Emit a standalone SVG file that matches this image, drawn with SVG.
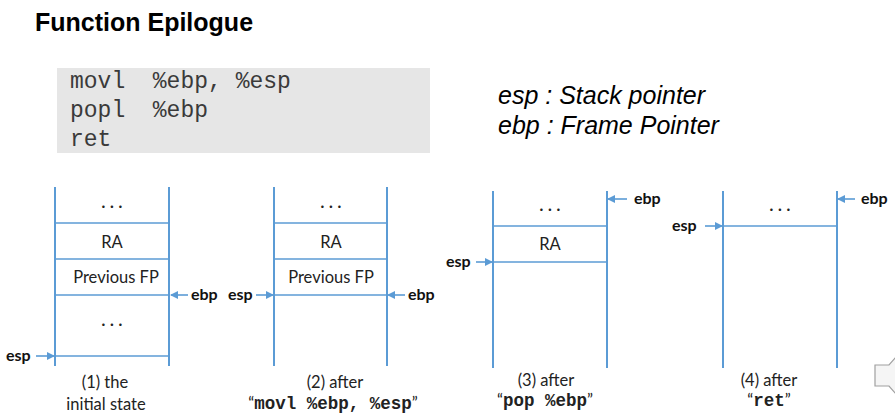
<svg xmlns="http://www.w3.org/2000/svg" width="895" height="419" viewBox="0 0 895 419">
<style>
.title{font-family:"Liberation Sans",Arial,sans-serif;font-weight:bold;font-size:25px;fill:#000}
.code{font-family:"Liberation Mono","Courier New",monospace;font-size:23px;fill:#3a3a3a;white-space:pre}
.legend{font-family:"Liberation Sans",Arial,sans-serif;font-style:italic;font-size:25px;fill:#000}
.cell{font-family:Lato,"Liberation Sans",sans-serif;font-size:16.5px;fill:#222;text-anchor:middle}
.reg{font-family:Lato,"Liberation Sans",sans-serif;font-size:16px;font-weight:bold;fill:#111}
.cap{font-family:Lato,"Liberation Sans",sans-serif;font-size:16.5px;fill:#222;text-anchor:middle}
.capc{font-family:"Liberation Mono","Courier New",monospace;font-weight:bold;font-size:17.5px}
.v{stroke:#5b9bd5;stroke-width:2;fill:none}
.h{stroke:#5b9bd5;stroke-width:1.6;fill:none}
.arr{stroke:#5b9bd5;stroke-width:1.6;fill:none;marker-end:url(#ah)}
</style>
<defs>
<marker id="ah" markerWidth="8" markerHeight="8" refX="7" refY="4" orient="auto" markerUnits="userSpaceOnUse">
<path d="M0,0 L8,4 L0,8 Z" fill="#5b9bd5"/>
</marker>
</defs>
<rect width="895" height="419" fill="#fff"/>
<text class="title" x="35" y="31">Function Epilogue</text>
<g id="code">
<rect x="57" y="68" width="373" height="85" fill="#e6e6e6"/>
<text class="code" x="70" y="88">movl  %ebp, %esp</text>
<text class="code" x="70" y="117">popl  %ebp</text>
<text class="code" x="70" y="146">ret</text>
</g>
<g id="legend">
<text class="legend" x="498" y="104">esp : Stack pointer</text>
<text class="legend" x="498" y="134">ebp : Frame Pointer</text>
</g>
<g id="stack1">
<line class="v" x1="55" y1="187" x2="55" y2="366"/>
<line class="v" x1="169" y1="187" x2="169" y2="366"/>
<line class="h" x1="55" y1="223" x2="169" y2="223"/>
<line class="h" x1="55" y1="259" x2="169" y2="259"/>
<line class="h" x1="55" y1="295" x2="169" y2="295"/>
<line class="h" x1="55" y1="356" x2="169" y2="356"/>
<text class="cell" x="112" y="212">· · ·</text>
<text class="cell" x="112" y="248">RA</text>
<text class="cell" x="116" y="283">Previous FP</text>
<text class="cell" x="112" y="330">· · ·</text>
<text class="cap" x="105" y="388">(1) the</text>
<text class="cap" x="106" y="410">initial state</text>
</g>
<g id="stack2">
<line class="v" x1="274" y1="187" x2="274" y2="366"/>
<line class="v" x1="387" y1="187" x2="387" y2="366"/>
<line class="h" x1="274" y1="223" x2="387" y2="223"/>
<line class="h" x1="274" y1="259" x2="387" y2="259"/>
<line class="h" x1="274" y1="295" x2="387" y2="295"/>
<text class="cell" x="331" y="212">· · ·</text>
<text class="cell" x="331" y="248">RA</text>
<text class="cell" x="331" y="283">Previous FP</text>
<text class="cap" x="335" y="388">(2) after</text>
<text class="cap" x="333" y="409">“<tspan class="capc">movl %ebp, %esp</tspan>”</text>
</g>
<g id="stack3">
<line class="v" x1="493" y1="191" x2="493" y2="368"/>
<line class="v" x1="607" y1="191" x2="607" y2="368"/>
<line class="h" x1="493" y1="226" x2="607" y2="226"/>
<line class="h" x1="493" y1="262" x2="607" y2="262"/>
<text class="cell" x="550" y="215">· · ·</text>
<text class="cell" x="550" y="250">RA</text>
<text class="cap" x="546" y="386">(3) after</text>
<text class="cap" x="545" y="406">“<tspan class="capc">pop %ebp</tspan>”</text>
</g>
<g id="stack4">
<line class="v" x1="723" y1="191" x2="723" y2="368"/>
<line class="v" x1="837" y1="191" x2="837" y2="368"/>
<line class="h" x1="723" y1="226" x2="837" y2="226"/>
<text class="cell" x="780" y="215">· · ·</text>
<text class="cap" x="769" y="386">(4) after</text>
<text class="cap" x="769" y="406">“<tspan class="capc">ret</tspan>”</text>
</g>
<g id="connectors">
<line class="arr" x1="188" y1="295" x2="171" y2="295"/>
<line class="arr" x1="36" y1="356" x2="54" y2="356"/>
<line class="arr" x1="256" y1="295" x2="273" y2="295"/>
<line class="arr" x1="405" y1="295" x2="388" y2="295"/>
<line class="arr" x1="627" y1="199" x2="608" y2="199"/>
<line class="arr" x1="476" y1="262" x2="492" y2="262"/>
<line class="arr" x1="855" y1="199" x2="838" y2="199"/>
<line class="arr" x1="705" y1="226" x2="722" y2="226"/>
</g>
<g id="labels">
<text class="reg" x="191" y="300">ebp</text>
<text class="reg" x="6" y="361">esp</text>
<text class="reg" x="228" y="300">esp</text>
<text class="reg" x="408" y="300">ebp</text>
<text class="reg" x="634" y="204">ebp</text>
<text class="reg" x="446" y="267">esp</text>
<text class="reg" x="861" y="204">ebp</text>
<text class="reg" x="672" y="231">esp</text>
</g>
<g id="speaker">
<polygon points="875,365 889,365 896,357 896,394 889,386 875,386" fill="#f5f5f5" stroke="#a0a0a0" stroke-width="1.2"/>
</g>
</svg>
